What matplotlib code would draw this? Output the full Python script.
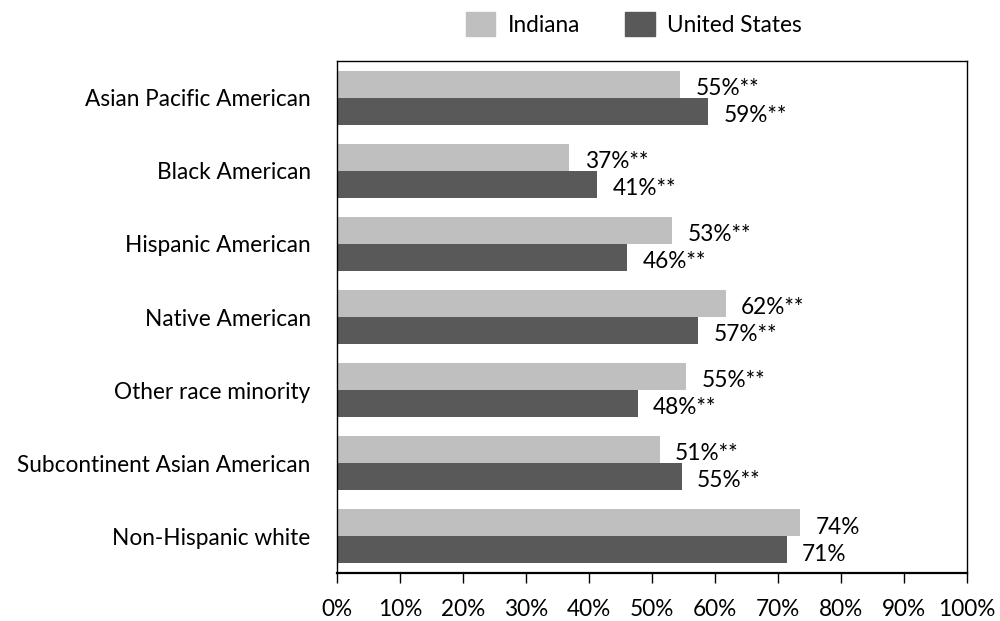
import matplotlib
matplotlib.use("Agg")
import matplotlib.pyplot as plt
import numpy as np
from matplotlib.patches import Patch

categories = ["Asian Pacific American", "Black American", "Hispanic American",
              "Native American", "Other race minority",
              "Subcontinent Asian American", "Non-Hispanic white"]
indiana = [54.5, 36.9, 53.2, 61.7, 55.4, 51.2, 73.5]
us = [58.9, 41.3, 46.1, 57.3, 47.7, 54.7, 71.4]
indiana_labels = ["55%**", "37%**", "53%**", "62%**", "55%**", "51%**", "74%"]
us_labels = ["59%**", "41%**", "46%**", "57%**", "48%**", "55%**", "71%"]
xticks = [0, 10, 20, 30, 40, 50, 60, 70, 80, 90, 100]

FS = 16.3
plt.rcParams['font.family'] = ['Lato', 'DejaVu Sans']
fig = plt.figure(figsize=(10, 6.21), dpi=100)
ax = fig.add_axes([0.337, 1 - 573/621, 0.630, (573 - 61)/621])

c_in = "#BFBFBF"
c_us = "#595959"
y = np.arange(len(categories))
h = 0.37
ax.barh(y - h/2, indiana, height=h, color=c_in)
ax.barh(y + h/2, us, height=h, color=c_us)

for i in range(len(categories)):
    ax.annotate(indiana_labels[i], (indiana[i], y[i] - h/2), xytext=(11, -3),
                textcoords="offset points", va="center", ha="left", fontsize=FS)
    ax.annotate(us_labels[i], (us[i], y[i] + h/2), xytext=(11, -3),
                textcoords="offset points", va="center", ha="left", fontsize=FS)

ax.set_ylim(len(categories) - 0.5, -0.5)
ax.set_xlim(0, 100)
ax.set_yticks(y)
ax.set_yticklabels(categories, fontsize=FS)
ax.tick_params(axis="y", length=0, pad=19)
ax.set_xticks(xticks)
ax.set_xticklabels([f"{t}%" for t in xticks], fontsize=FS)
ax.tick_params(axis="x", length=7, width=1, direction="out", pad=12)
for s in ax.spines.values():
    s.set_linewidth(1)
    s.set_color("black")
ax.spines["bottom"].set_linewidth(1.6)

handles = [Patch(color=c_in, label="Indiana"), Patch(color=c_us, label="United States")]
fig.legend(handles=handles, loc="upper center", bbox_to_anchor=(0.634, 1.013), ncol=2,
           frameon=False, fontsize=FS, handlelength=1.3, handleheight=1.2,
           columnspacing=2.0, handletextpad=0.55)

fig.savefig("out.png", dpi=100)
